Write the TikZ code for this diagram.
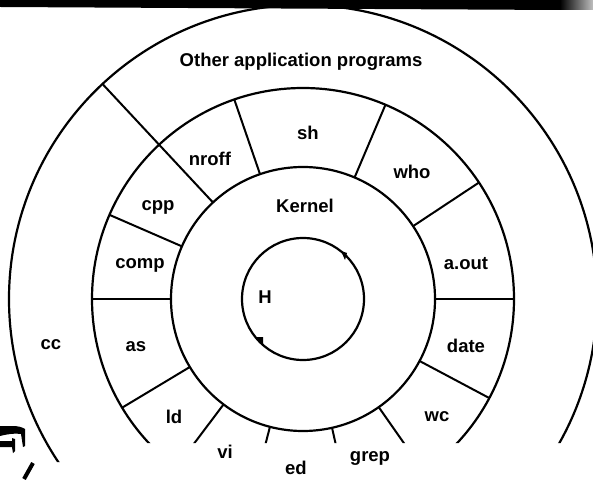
\documentclass[tikz,border=0pt]{standalone}
\usepackage{fontspec}
\setmainfont{Liberation Sans}
\usepackage{tikz}
\usepackage{xcolor}
\usetikzlibrary{shapes,arrows,positioning}

\begin{document}
\begin{tikzpicture}[x=1pt, y=1pt, every node/.style={font=\fontsize{18.5}{20}\selectfont\bfseries, inner sep=0pt}, ring/.style={line width=2.2pt}, spoke/.style={line width=2pt}]
    \useasboundingbox (0,0) rectangle (593,479);
    \fill[white] (0,0) rectangle (593,479);

    \begin{scope}
        \clip (0,17) -- (100,17) -- (100,36) -- (593,36) -- (593,479) -- (0,479) -- cycle;
        \draw[ring] (303,180) circle[radius=294pt];
        \draw[ring] (303,180) circle[radius=211pt];
        \draw[ring] (303,180) circle[radius=132pt];
        \foreach \a in {0,33.5,67,109,156.5,180,211,233,255.5,282.7,305,332}
            \draw[spoke, shift={(303,180)}] (\a:132) -- (\a:211);
        \draw[spoke, shift={(303,180)}] (133:132) -- (133:294);
    \end{scope}

    \draw[ring] (303,180) circle[radius=61pt];
    \fill (341,228) -- (347,226) -- (345,219) -- cycle;
    \fill (255,142) -- (263,142) -- (263,134) -- cycle;

    \node (other) at (301,417) {Other application programs};
    \node (sh) at (308,346) {sh};
    \node (nroff) at (210,320) {nroff};
    \node (who) at (412,307) {who};
    \node (cpp) at (158,272) {cpp};
    \node (kernel) at (305,273) {Kernel};
    \node (comp) at (140,214) {comp};
    \node (aout) at (466,215) {a.out};
    \node (hw) at (265,182) {H};
    \node (cc) at (51,134) {cc};
    \node (as) at (136,132) {as};
    \node (date) at (466,133) {date};
    \node (ld) at (174,62) {ld};
    \node (wc) at (437,62) {wc};
    \node (vi) at (225,27) {vi};
    \node (grep) at (370,21) {grep};
    \node (ed) at (296,11) {ed};

    \fill (0,479) -- (560,479) -- (560,469) -- (0,472) -- cycle;
    \shade[left color=black, right color=black!25] (560,469) rectangle (593,479);

    \fill (0,53) -- (12,53) .. controls (18,53) and (22,52) .. (25,50) -- (25,33) -- (23,32) -- (21,45) .. controls (15,46) and (8,45) .. (0,43) -- cycle;
    \fill (0,38) -- (12,38) -- (12,41) -- (15,40) -- (15,28) -- (13,26) -- (12,32) -- (0,32) -- cycle;
    \draw[line width=4pt] (33,16) .. controls (29,8) .. (24,0);
\end{tikzpicture}
\end{document}
